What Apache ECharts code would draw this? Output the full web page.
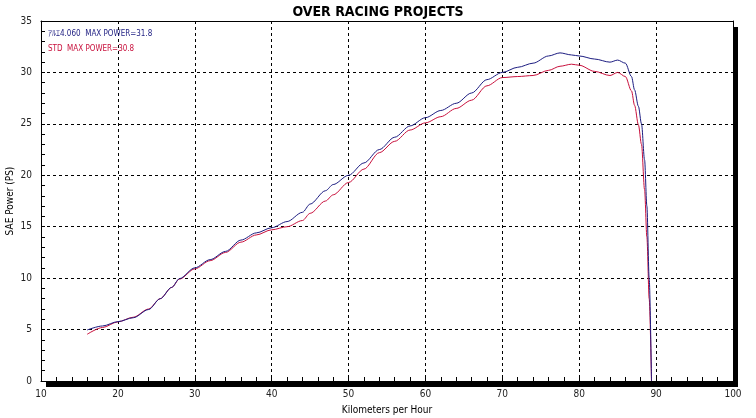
<!DOCTYPE html>
<html>
<head>
<meta charset="utf-8">
<script src="https://cdn.jsdelivr.net/npm/echarts@6/dist/echarts.min.js"></script>
<style>
  html, body { margin: 0; padding: 0; background: #fff; }
  #chart { width: 756px; height: 418px; }
</style>
</head>
<body>
<div id="chart"></div>
<script>
  // dyno run
  const speedKmh = [16, 18, 20, 22, 24, 25.5, 27, 28, 30, 32, 34, 36, 38, 40, 42, 44, 45, 47, 48, 50,
    52, 54, 56, 58, 60, 62, 64, 66, 68, 70, 72, 74, 76, 77.5, 79, 80, 82, 84, 85, 86,
    86.8, 87.2, 87.7, 88.1, 88.5, 88.8, 89.1, 89.4];
  const powerTuned = [4.96, 5.35, 5.77, 6.15, 6.95, 8.0, 9.1, 9.95, 11.0, 11.8, 12.6, 13.7, 14.4, 14.9, 15.5, 16.4, 17.2, 18.5, 19.1, 20.0,
    21.2, 22.5, 23.7, 24.8, 25.6, 26.3, 27.0, 28.0, 29.3, 30.0, 30.5, 30.9, 31.6, 31.9, 31.7, 31.6, 31.3, 31.0, 31.2, 30.9,
    29.6, 28.3, 26.7, 25.0, 21.5, 17.0, 10.0, 0];
  const powerStd = [4.54, 5.2, 5.75, 6.2, 7.0, 8.0, 9.1, 9.9, 10.9, 11.7, 12.5, 13.5, 14.2, 14.7, 15.0, 15.6, 16.3, 17.5, 18.1, 19.3,
    20.6, 22.2, 23.3, 24.4, 25.1, 25.7, 26.5, 27.3, 28.7, 29.5, 29.6, 29.7, 30.2, 30.6, 30.8, 30.7, 30.1, 29.7, 30.0, 29.6,
    28.2, 26.8, 24.9, 23.0, 18.6, 14.0, 8.0, 0];

  const seriesNames = ['ｱﾙｴ4.060  MAX POWER=31.8', 'STD  MAX POWER=30.8'];
  const seriesColors = ['#1c1c80', '#c8103c'];

  const chart = echarts.init(document.getElementById('chart'));

  const pairs = (ys) => speedKmh.map((x, i) => [x, ys[i]]);
  const labelFont = 'DejaVu Sans Condensed, Noto Sans CJK JP, sans-serif';
  const frameOnly = {
    axisLine: { show: true, onZero: false, lineStyle: { color: '#000' } },
    axisTick: { show: false },
    axisLabel: { show: false },
    splitLine: { show: false },
  };

  const option = {
    animation: false,
    backgroundColor: '#fff',
    title: {
      text: 'OVER RACING PROJECTS',
      left: 'center',
      top: 0,
      textStyle: { fontSize: 14, fontWeight: 'bold', fontFamily: labelFont, color: '#000' },
    },
    legend: {
      orient: 'vertical',
      left: 38,
      top: 24,
      icon: 'none',
      itemWidth: 0,
      itemHeight: 10,
      itemGap: 6,
      data: seriesNames.map((n, i) => ({
        name: n,
        textStyle: { color: seriesColors[i], fontSize: 8, fontFamily: labelFont },
      })),
    },
    grid: {
      left: 41,
      right: 23,
      top: 21,
      bottom: 37,
      outerBoundsMode: 'none',
      containLabel: false,
      show: true,
      backgroundColor: '#fff',
      borderWidth: 0,
      shadowColor: '#000',
      shadowBlur: 0,
      shadowOffsetX: 5,
      shadowOffsetY: 6,
    },
    xAxis: [
      {
        type: 'value',
        min: 10,
        max: 100,
        interval: 10,
        name: 'Kilometers per Hour',
        nameLocation: 'middle',
        nameGap: 24,
        nameTextStyle: { fontSize: 10, fontFamily: labelFont, color: '#000' },
        axisLine: { lineStyle: { color: '#000' } },
        axisTick: { show: true, inside: true, length: 4, lineStyle: { color: '#000' } },
        minorTick: { show: true, splitNumber: 5, length: 4, lineStyle: { color: '#000' } },
        axisLabel: { margin: 8, fontSize: 10, fontFamily: labelFont, color: '#222' },
        splitLine: { show: true, lineStyle: { color: '#000', type: [3, 3] } },
      },
      { type: 'value', position: 'top', min: 10, max: 100, ...frameOnly },
    ],
    yAxis: [
      {
        type: 'value',
        min: 0,
        max: 35,
        interval: 5,
        name: 'SAE Power (PS)',
        nameLocation: 'middle',
        nameGap: 26,
        nameMoveOverlap: false,
        nameTextStyle: { fontSize: 10, fontFamily: labelFont, color: '#000' },
        axisLine: { show: true, lineStyle: { color: '#000' } },
        axisTick: { show: true, inside: true, length: 4, lineStyle: { color: '#000' } },
        minorTick: { show: true, splitNumber: 5, length: 4, lineStyle: { color: '#000' } },
        axisLabel: { margin: 9, fontSize: 10, fontFamily: labelFont, color: '#222' },
        splitLine: { show: true, lineStyle: { color: '#000', type: [3, 3] } },
      },
      { type: 'value', position: 'right', min: 0, max: 35, ...frameOnly },
    ],
    series: [
      {
        name: seriesNames[1],
        type: 'line',
        data: pairs(powerStd),
        showSymbol: false,
        symbol: 'none',
        smooth: 0.3,
        smoothMonotone: 'x',
        lineStyle: { width: 1, color: seriesColors[1] },
        itemStyle: { color: seriesColors[1] },
      },
      {
        name: seriesNames[0],
        type: 'line',
        data: pairs(powerTuned),
        showSymbol: false,
        symbol: 'none',
        smooth: 0.3,
        smoothMonotone: 'x',
        lineStyle: { width: 1, color: seriesColors[0] },
        itemStyle: { color: seriesColors[0] },
      },
    ],
  };

  chart.setOption(option);
</script>
</body>
</html>
